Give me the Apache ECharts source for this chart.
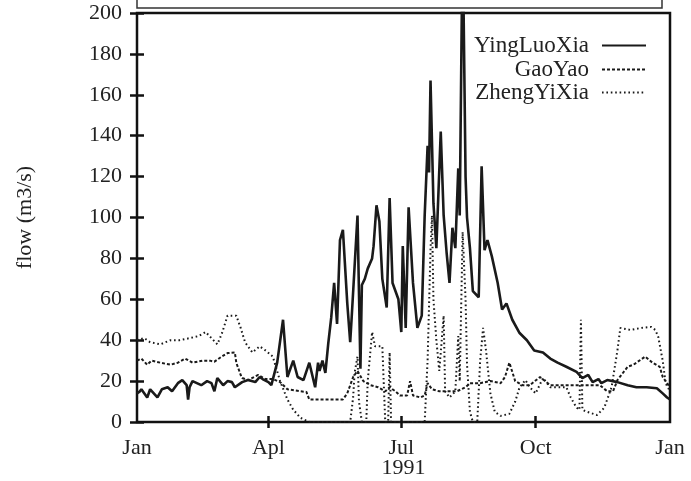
<!DOCTYPE html>
<html><head><meta charset="utf-8">
<script src="https://cdn.jsdelivr.net/npm/echarts@6/dist/echarts.min.js"></script>
<style>html,body{margin:0;padding:0;background:#fff}#c{width:691px;height:481px}</style>
</head><body><div id="c"></div>
<script>
// x axis: day of year 1991 (0 = Jan 1, 365 = Jan 1 1992)
const monthTicks = [0, 90, 181, 273, 365];
const monthLabels = ['Jan', 'Apl', 'Jul', 'Oct', 'Jan'];
const yearLabel = '1991';
const yAxisTitle = 'flow (m3/s)';
const seriesNames = ['YingLuoXia', 'GaoYao', 'ZhengYiXia'];

const yingDays = [0,2,3,7,9,14,17,21,24,28,31,34,35,36,38,41,44,48,51,53,55,59,62,65,67,72,76,81,84,86,90,92,96,100,103,107,110,114,118,122,124,125,127,129,131,133,135,137,139,141,144,146,147,151,153,154,156,158,161,162,164,166,168,171,173,175,179,181,182,184,186,189,192,195,197,199,200,201,203,205,208,210,212,214,216,218,220,221,223,225,226,228,230,234,236,238,240,243,247,250,253,257,262,267,272,278,283,288,294,301,305,309,312,316,318,322,329,336,342,349,356,360,363,365];
const yingFlow = [14,15,16,12,16,12,16,17,15,19,20.5,18,11,17,20,19,18,20,19,15,21.5,18,20,19.5,17,19.5,20.5,19.5,22,21,19.5,18,29,50,22,30,22,20.5,29,17,29,25,30,24,38.6,51,68,48,89,94,58,39,51,101,26,67,70,75,80,86,106,98,70,56,109.5,68,60,44,86,46,105,68,46,52,101,135,122,167,107,85,142,101,83,68,95,85,124,101,240,120,100,85,64,61,125,84,89,81,68,55,58,50,43.5,40,35,34,31,29,27,24.5,21.5,23,19.5,21,19,20.5,19.5,18,17,17,16.5,14,12,11];

const gaoDays = [0,3,7,10,16,23,28,33,38,45,50,53,58,62,67,68,71,72,76,83,88,93,98,103,112,116,118,130,141,144,148,151,155,160,165,170,173,177,180,185,187,189,194,197,199,202,207,214,219,225,228,235,242,249,252,255,259,264,269,276,283,290,300,310,317,322,326,329,336,340,348,353,358,360,363,365];
const gaoFlow = [30,31,28,30,29,28,29,31,29,30,30,29.5,32,33.7,34,29,23,21.5,20.5,23,21,21,19.5,16,15,14.7,11,11,11,14,22,25,20,18,17,15,17,15,13,13,20,13,12,13,19,16,15,15,15,17,19,19,20,19,22,29,20,18,18,22,18,18,18,18,18,15,15,20.5,27,28,32,29,27,22,19,17];

const zhengDays = [0,5,9,16,23,29,36,42,47,51,55,58,62,68,71,74,79,84,88,93,98,103,107,112,118,146,148,149,151,152,154,157,158,161,163,168,170,172,173,174,197,199,201,202,203,205,207,210,211,214,218,220,221,223,225,226,228,230,233,235,237,239,242,245,249,255,259,262,266,269,273,278,283,288,294,297,301,303,304,305,308,315,320,325,329,331,338,345,352,355,357,360,362,365];
const zhengFlow = [40,41,39,38,40,40,41,42,44,41,38,43,52,52,46,39,34,37,35,32,20,11,6,2,0,0,12,24,32,10,0,0,20,44,37,37,0,0,34,0,0,30,84,101,60,40,25,52,15,12,15,42,20,93,60,28,5,0,0,30,46,35,14,5,3,4,10,17,20.5,17,14,21.5,17,17,17,12,7,6,50,6,5,3.4,7,17,35,46,45,46,46.5,45,41.5,30,19,15];

function pairs(days, vals) { return days.map((d, i) => [d, vals[i]]); }

const FONT = '"Liberation Serif", "Times New Roman", serif';
const INK = '#1a1a1a';
const chart = echarts.init(document.getElementById('c'), null, {renderer: 'canvas'});

const xCommon = {
  type: 'value', min: 0, max: 365,
  splitLine: {show: false},
  axisLine: {show: false}
};
const yCommon = {
  type: 'value', min: 0, max: 200, interval: 20,
  splitLine: {show: false},
  axisLine: {show: false}
};

function legendFor(name, top) {
  return {
    data: [name], right: 44, top: top, orient: 'vertical', align: 'right',
    padding: 0, itemWidth: 44, itemHeight: 14,
    itemStyle: {opacity: 0},
    textStyle: {fontFamily: FONT, fontSize: 23, color: '#222', padding: [0, 8, 0, 0]},
    selectedMode: false
  };
}

chart.setOption({
  animation: false,
  backgroundColor: '#fff',
  color: [INK, INK, INK],
  grid: {left: 137, right: 21, top: 13, bottom: 59, containLabel: false, outerBoundsMode: 'none',
         show: true, borderColor: '#111', borderWidth: 2.5, backgroundColor: 'transparent'},
  graphic: [{
    type: 'rect', shape: {x: 137, y: -20, width: 525, height: 28},
    style: {fill: 'none', stroke: '#333', lineWidth: 1.5}
  }],
  legend: [legendFor(seriesNames[0], 34), legendFor(seriesNames[1], 58), legendFor(seriesNames[2], 81)],
  xAxis: [
    Object.assign({}, xCommon, {
      position: 'bottom',
      name: yearLabel, nameLocation: 'middle', nameGap: 35, nameMoveOverlap: false,
      nameTextStyle: {fontFamily: FONT, fontSize: 22, color: '#222'},
      axisTick: {show: true, inside: true, length: 6, customValues: monthTicks.slice(1, 4), lineStyle: {color: '#111', width: 2.5}},
      axisLabel: {
        customValues: monthTicks, margin: 15,
        fontFamily: FONT, fontSize: 22, color: '#222',
        formatter: function (v) { const i = monthTicks.indexOf(Math.round(v)); return i >= 0 ? monthLabels[i] : ''; }
      }
    }),
    Object.assign({}, xCommon, {
      position: 'top',
      axisTick: {show: true, inside: true, length: 6, customValues: monthTicks.slice(1, 4), lineStyle: {color: '#111', width: 2.5}},
      axisLabel: {show: false}
    })
  ],
  yAxis: [
    Object.assign({}, yCommon, {
      position: 'left',
      name: yAxisTitle, nameLocation: 'middle', nameGap: 101, nameRotate: 90,
      nameTextStyle: {fontFamily: FONT, fontSize: 22, color: '#222'},
      axisTick: {show: true, inside: true, length: 7, lineStyle: {color: '#111', width: 2.5}},
      axisLabel: {margin: 15, fontFamily: FONT, fontSize: 22, color: '#222'}
    }),
    Object.assign({}, yCommon, {
      position: 'right',
      axisTick: {show: true, inside: true, length: 7, lineStyle: {color: '#111', width: 2.5}},
      axisLabel: {show: false}
    })
  ],
  series: [
    {
      name: seriesNames[1], type: 'line', symbol: 'none', showSymbol: false, clip: true,
      data: pairs(gaoDays, gaoFlow),
      lineStyle: {color: INK, width: 2, type: [3, 2]}
    },
    {
      name: seriesNames[2], type: 'line', symbol: 'none', showSymbol: false, clip: true,
      data: pairs(zhengDays, zhengFlow),
      lineStyle: {color: INK, width: 2, type: [1.6, 2.8]}
    },
    {
      name: seriesNames[0], type: 'line', symbol: 'none', showSymbol: false, clip: true,
      data: pairs(yingDays, yingFlow),
      lineStyle: {color: INK, width: 2.6, type: 'solid'}
    }
  ]
});
</script>
</body></html>
